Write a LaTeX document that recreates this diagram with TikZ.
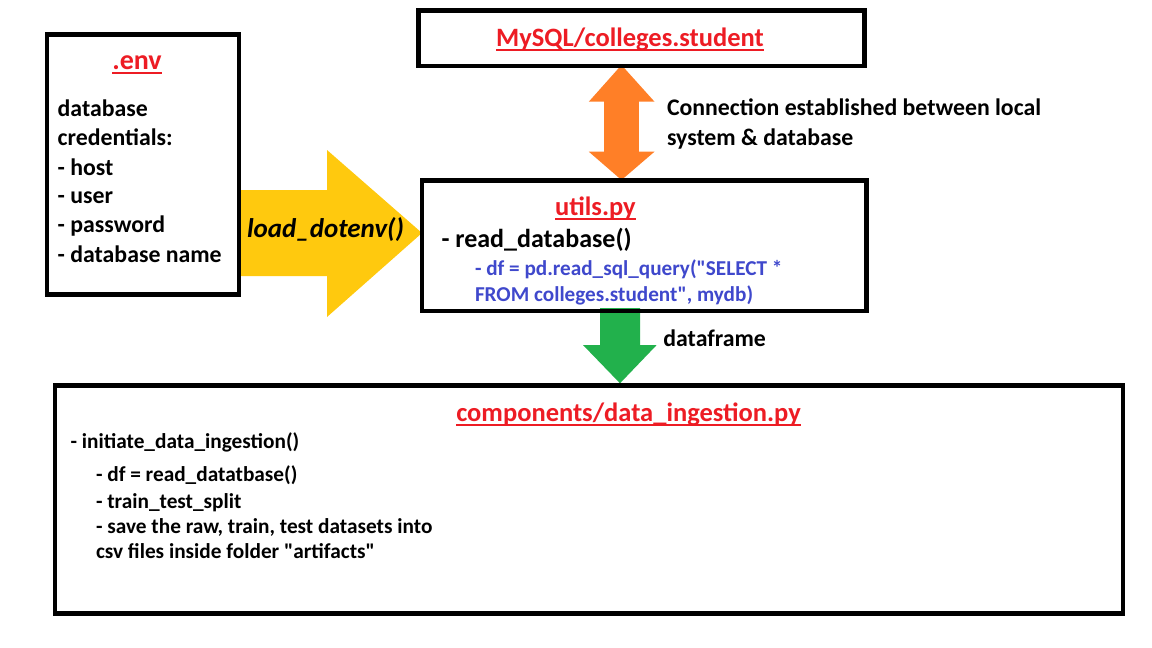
\documentclass[tikz,border=0pt]{standalone}
\usepackage{fontspec}
\setmainfont{Carlito}[Ligatures=TeXOff]
\definecolor{pred}{HTML}{ED1C24}
\definecolor{pblue}{HTML}{3F48CC}
\definecolor{porange}{HTML}{FF7F27}
\definecolor{pgreen}{HTML}{22B14C}
\definecolor{pyellow}{HTML}{FFC90E}
\newcommand{\dq}{\symbol{34}}
\tikzset{
  box/.style={draw=black, line width=4.5pt, rectangle, inner sep=0pt},
  txt/.style={inner sep=0pt, outer sep=0pt, anchor=base west, font=\bfseries\fontsize{23.8}{28}\selectfont},
  small/.style={txt, font=\bfseries\fontsize{21.3}{25}\selectfont},
  bluet/.style={txt, text=pblue, font=\bfseries\fontsize{21.2}{25}\selectfont},
  title/.style={inner sep=0pt, outer sep=0pt, anchor=base, text=pred, font=\bfseries\fontsize{26.5}{30}\selectfont},
  uline/.style={draw=pred, line width=2pt},
}
\begin{document}
\begin{tikzpicture}[x=1pt, y=-1pt]
\useasboundingbox[fill=white] (0,0) rectangle (1152,648);

% block arrows (drawn first, boxes on top)
\fill[pyellow] (238,190) -- (327,190) -- (327,150) -- (422,233) -- (327,317) -- (327,276) -- (238,276) -- cycle;
\fill[porange] (621.5,65) -- (654.5,101.7) -- (638.8,101.7) -- (638.8,151.7) -- (654.5,151.7) -- (621.5,180)
  -- (588.8,151.7) -- (604,151.7) -- (604,101.7) -- (588.8,101.7) -- cycle;
\fill[pgreen] (600,308) -- (640,308) -- (640,345) -- (656.7,345) -- (620,383.3) -- (583,345) -- (600,345) -- cycle;

% boxes
\node[box, minimum width=191.6pt, minimum height=260pt] (env) at (143,164.5) {};
\node[box, minimum width=446pt, minimum height=55.5pt] (mysql) at (641.7,38.3) {};
\node[box, minimum width=444.3pt, minimum height=130.5pt] (utils) at (644.3,245.8) {};
\node[box, minimum width=1067.7pt, minimum height=228.2pt] (ingest) at (588.9,499.6) {};

% .env box
\node[title, font=\bfseries\fontsize{28}{32}\selectfont] (envt) at (137,69) {.env};
\draw[uline] ([yshift=-3.5pt]envt.base west) -- ([yshift=-3.5pt]envt.base east);
\node[txt] (e1) at (57.7,116) {database};
\node[txt] (e2) at (57.7,145.7) {credentials:};
\node[txt] (e3) at (57.7,175) {- host};
\node[txt] (e4) at (57.7,203.5) {- user};
\node[txt] (e5) at (57.7,232.5) {- password};
\node[txt] (e6) at (57.7,262.5) {- database name};

% load_dotenv
\node[txt, font=\bfseries\itshape\fontsize{27}{31}\selectfont] (ld) at (247,237.5) {load\_dotenv()};

% MySQL
\node[title] (mt) at (630,46.5) {MySQL/colleges.student};
\draw[uline] ([yshift=-3.5pt]mt.base west) -- ([yshift=-3.5pt]mt.base east);
\node[txt] (c1) at (667,115) {Connection established between local};
\node[txt] (c2) at (667,145) {system \& database};

% utils
\node[title] (ut) at (595.5,215) {utils.py};
\draw[uline] ([yshift=-3.5pt]ut.base west) -- ([yshift=-3.5pt]ut.base east);
\node[txt, font=\bfseries\fontsize{26}{30}\selectfont] (u1) at (441.5,247) {- read\_database()};
\node[bluet] (u2) at (475,275) {- df = pd.read\_sql\_query(\dq SELECT *};
\node[bluet] (u3) at (475,301.7) {FROM colleges.student\dq, mydb)};

% dataframe
\node[txt] (df) at (663.4,346.7) {dataframe};

% ingestion
\node[title] (it) at (628.5,421.7) {components/data\_ingestion.py};
\draw[uline] ([yshift=-3.5pt]it.base west) -- ([yshift=-3.5pt]it.base east);
\node[small] (i1) at (70.6,448) {- initiate\_data\_ingestion()};
\node[small] (i2) at (96,481.7) {- df = read\_datatbase()};
\node[small] (i3) at (96,508) {- train\_test\_split};
\node[small] (i4) at (96,533.3) {- save the raw, train, test datasets into};
\node[small] (i5) at (96,558.3) {csv files inside folder \dq artifacts\dq};
\end{tikzpicture}
\end{document}
